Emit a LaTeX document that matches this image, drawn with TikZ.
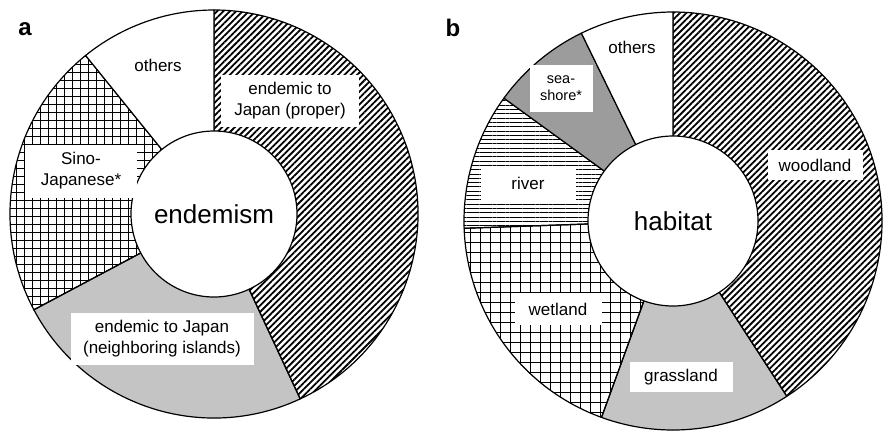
\documentclass[tikz,border=0pt]{standalone}
\usepackage{fontspec}
\setmainfont{Liberation Sans}
\usetikzlibrary{patterns.meta}

\tikzset{
  slice/.style={draw=black, line width=1.2pt, line join=round},
  hatchfill/.style={pattern={Lines[angle=45,distance=4.5pt,line width=1.8pt]}},
  crossfill/.style={pattern={Hatch[distance=8pt,line width=0.9pt]}},
  widecrossfill/.style={pattern={Hatch[distance=10pt,line width=0.9pt]}},
  dotfill/.style={pattern={Dots[distance=2pt,radius=0.55pt]}},
  darkdotfill/.style={preaction={fill=black!20}, pattern={Dots[distance=2pt,radius=0.6pt]}},
  hlinefill/.style={pattern={Lines[angle=0,distance=4.3pt,line width=1pt]}},
  nofill/.style={fill=white},
  boxlabel/.style={fill=white, inner sep=0pt, align=center, font=\fontsize{17}{21}\selectfont},
  plainlabel/.style={align=center, font=\fontsize{17}{21}\selectfont},
  centerlabel/.style={font=\fontsize{26}{30}\selectfont},
  panel/.style={font=\fontsize{24}{28}\selectfont\bfseries}
}

\begin{document}
\begin{tikzpicture}[x=1pt,y=1pt]

\useasboundingbox (0,0) rectangle (885,-432);

% a: endemism
\coordinate (ca) at (214,-214);
\foreach \s/\e/\f in {-65/90/hatchfill, -152/-65/dotfill, 129/208/crossfill, 90/129/nofill}
  \draw[slice,\f] (ca) -- ++(\s:204) arc[start angle=\s, end angle=\e, radius=204] -- cycle;
\draw[slice,fill=white] (ca) circle[radius=83];

\node[panel] (pa) at (25,-29) {a};
\node[centerlabel] (enda) at (ca) {endemism};
\node[plainlabel] (otha) at (158,-65) {others};
\node[boxlabel, minimum width=138pt, minimum height=52pt] (propa) at (290,-101) {endemic to\\Japan (proper)};
\node[boxlabel, minimum width=112pt, minimum height=53pt] (sinoa) at (81,-171) {Sino-\\Japanese*};
\node[boxlabel, minimum width=183pt, minimum height=52pt] (neiga) at (162,-339) {endemic to Japan\\(neighboring islands)};

% b: habitat
\coordinate (cb) at (673,-221);
\foreach \s/\e/\f in {-57/90/hatchfill, -110/-57/dotfill, 182/250/widecrossfill, 144/182/hlinefill, 116/144/darkdotfill, 90/116/nofill}
  \draw[slice,\f] (cb) -- ++(\s:209) arc[start angle=\s, end angle=\e, radius=209] -- cycle;
\draw[slice,fill=white] (cb) circle[radius=85];

\node[panel] (pb) at (453,-28) {b};
\node[centerlabel] (habb) at (cb) {habitat};
\node[plainlabel] (othb) at (632,-47) {others};
\node[boxlabel, minimum width=63pt, minimum height=47pt, font=\fontsize{14.5}{17}\selectfont] (seab) at (561,-88) {sea-\\shore*};
\node[boxlabel, minimum width=95pt, minimum height=33pt] (rivb) at (528,-183) {river};
\node[boxlabel, minimum width=95pt, minimum height=30pt] (woodb) at (815,-165) {woodland};
\node[boxlabel, minimum width=87pt, minimum height=32pt] (wetb) at (558,-309) {wetland};
\node[boxlabel, minimum width=103pt, minimum height=30pt] (grasb) at (681,-377) {grassland};

\end{tikzpicture}
\end{document}
